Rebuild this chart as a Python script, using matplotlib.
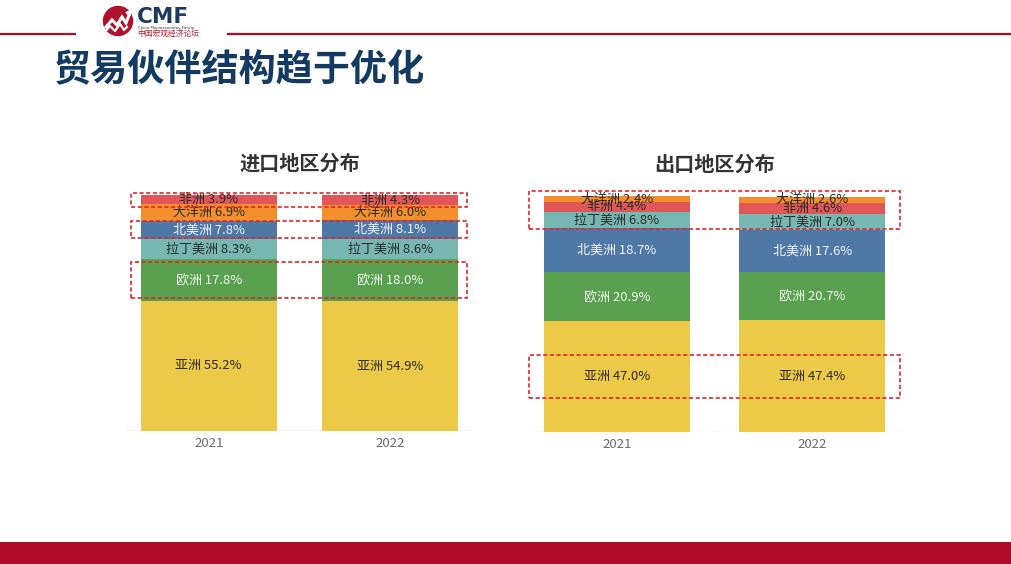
import matplotlib
matplotlib.use("Agg")
import matplotlib.pyplot as plt
import matplotlib.transforms as mtransforms
from matplotlib.patches import Rectangle, Circle
import numpy as np

plt.rcParams['font.family'] = ['Noto Sans CJK SC', 'DejaVu Sans']

# data
years = ['2021', '2022']
imp_regions = ['亚洲', '欧洲', '拉丁美洲', '北美洲', '大洋洲', '非洲']
imp_2021 = [55.2, 17.8, 8.3, 7.8, 6.9, 3.9]
imp_2022 = [54.9, 18.0, 8.6, 8.1, 6.0, 4.3]
exp_regions = ['亚洲', '欧洲', '北美洲', '拉丁美洲', '非洲', '大洋洲']
exp_2021 = [47.0, 20.9, 18.7, 6.8, 4.4, 2.4]
exp_2022 = [47.4, 20.7, 17.6, 7.0, 4.6, 2.6]

region_colors = {
    '亚洲': '#edc948',
    '欧洲': '#59a14f',
    '拉丁美洲': '#76b7b2',
    '北美洲': '#4e79a7',
    '大洋洲': '#f28e2b',
    '非洲': '#e15759',
}
light_text = {'欧洲', '北美洲'}

W, H = 1012, 564
fig = plt.figure(figsize=(W / 100, H / 100), dpi=100)
fig.patch.set_facecolor('white')


def px_axes(x0, y0, x1, y1):
    # pixel box (top-left origin) -> figure axes
    return fig.add_axes([x0 / W, 1 - y1 / H, (x1 - x0) / W, (y1 - y0) / H])


def draw_panel(ax, regions, series, title, boxes, ymax, base_color):
    x = np.arange(len(years))
    bottoms = np.zeros(len(years))
    mids = {}
    for i, reg in enumerate(regions):
        vals = np.array([s[i] for s in series])
        ax.bar(x, vals, 0.75, bottom=bottoms, color=region_colors[reg],
               edgecolor='none', zorder=2)
        mids[reg] = bottoms + vals / 2
        tc = '#f2f2f2' if reg in light_text else '#2b2b2b'
        for j in range(len(years)):
            ax.text(x[j], bottoms[j] + vals[j] / 2, f'{reg} {vals[j]:.1f}%',
                    ha='center', va='center', fontsize=9.4, color=tc, zorder=4)
        bottoms = bottoms + vals

    trans = mtransforms.blended_transform_factory(ax.transAxes, ax.transData)
    for regs, half, x0, x1 in boxes:
        c = np.mean([mids[r] for r in regs])
        ax.add_patch(Rectangle((x0, c - half), x1 - x0, 2 * half,
                               transform=trans, fill=False, edgecolor='#e0262b',
                               linestyle=(0, (2.5, 1.5)), linewidth=1.2,
                               clip_on=False, zorder=5))

    ax.axhline(0, color=base_color, linewidth=1.2, linestyle=(0, (1, 1)), zorder=1)
    ax.set_xlim(x[0] - 0.45, x[-1] + 0.45)
    ax.set_ylim(0, ymax)
    ax.set_xticks(x, years)
    ax.tick_params(axis='x', length=0, pad=4, labelsize=9.5, labelcolor='#6b6b6b')
    ax.set_yticks([])
    for s in ax.spines.values():
        s.set_visible(False)
    ax.text(0.5, 1.135, title, transform=ax.transAxes, ha='center', va='center',
            fontsize=14.5, fontweight='bold', color='#333333')


ax1 = px_axes(127, 195, 472, 431)
draw_panel(ax1, imp_regions, [imp_2021, imp_2022], '进口地区分布',
           [(['非洲'], 3.0, 0.012, 0.986),
            (['北美洲'], 3.6, 0.012, 0.986),
            (['欧洲'], 7.6, 0.012, 0.986)],
           100.0, '#e2e2e2')

ax2 = px_axes(529, 196, 900, 432)
draw_panel(ax2, exp_regions, [exp_2021, exp_2022], '出口地区分布',
           [(['拉丁美洲', '大洋洲'], 8.1, 0.0, 1.0),
            (['亚洲'], 9.1, 0.0, 1.0)],
           100.2, '#f4f4f4')

# header / footer decorations in pixel space
ov = fig.add_axes([0, 0, 1, 1], zorder=-1)
ov.set_xlim(0, W)
ov.set_ylim(H, 0)
ov.axis('off')
ov.plot([0, 75], [34, 34], color='#a8102c', linewidth=1.6)
ov.plot([228, W], [34, 34], color='#a8102c', linewidth=1.6)
ov.add_patch(Rectangle((0, 542), W, 22, color='#ae0c2a', linewidth=0))

ov.add_patch(Circle((118, 21), 14.5, color='#b0122e'))
ov.plot([106, 112, 117, 122, 126, 131], [27, 20, 25, 17, 23, 10],
        color='white', linewidth=2.2, solid_joinstyle='miter')
ov.plot([104, 110, 115, 120, 124, 127], [33, 26, 31, 24, 30, 27],
        color='white', linewidth=1.6)
ov.annotate('', xy=(134, 7), xytext=(128, 14),
            arrowprops=dict(arrowstyle='-|>', color='white', lw=1.5, mutation_scale=7))
ov.text(137, 17, 'CMF', fontsize=15.5, fontweight='bold', color='#1b3a63',
        ha='left', va='center', family=['DejaVu Sans'])
ov.text(138, 28, 'China Macroeconomy Forum', fontsize=2.8, color='#333333',
        ha='left', va='center', family=['DejaVu Sans'])
ov.text(137, 34, '中国宏观经济论坛', fontsize=5.6, color='#c01a33',
        ha='left', va='center')

ov.text(54, 71, '贸易伙伴结构趋于优化', fontsize=26.7, fontweight='bold',
        color='#123a62', ha='left', va='center')

fig.savefig('out.png', dpi=100, facecolor='white')
